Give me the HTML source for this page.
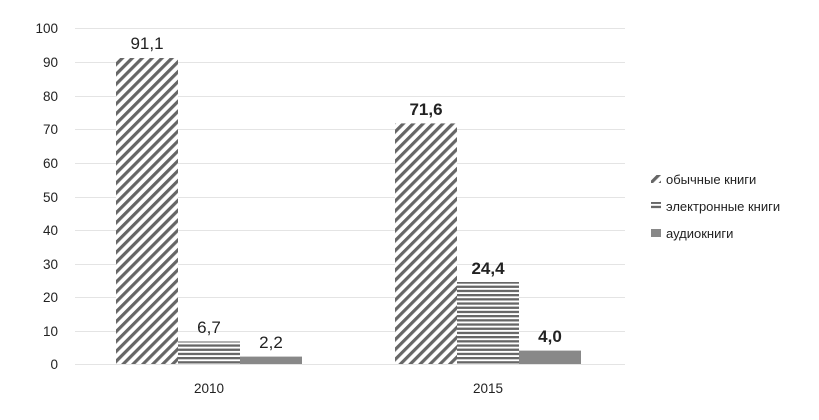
<!DOCTYPE html>
<html><head><meta charset="utf-8"><style>body{margin:0;background:#fff}svg{display:block}text{font-family:"Liberation Sans",sans-serif;fill:#222}</style></head><body>
<svg width="819" height="420" viewBox="0 0 819 420">
<defs>
<pattern id="d" patternUnits="userSpaceOnUse" width="7" height="7" patternTransform="rotate(45)"><rect width="7" height="7" fill="#fff"/><rect width="3.2" height="7" fill="#666"/></pattern>
<pattern id="h" patternUnits="userSpaceOnUse" width="4" height="4.2"><rect width="4" height="4.2" fill="#fff"/><rect width="4" height="2.3" fill="#666"/></pattern>
</defs>
<g stroke="#e4e4e4" stroke-width="1">
<line x1="75" x2="625" y1="28.5" y2="28.5"/><line x1="75" x2="625" y1="62.5" y2="62.5"/><line x1="75" x2="625" y1="96.5" y2="96.5"/><line x1="75" x2="625" y1="129.5" y2="129.5"/><line x1="75" x2="625" y1="163.5" y2="163.5"/><line x1="75" x2="625" y1="197.5" y2="197.5"/><line x1="75" x2="625" y1="230.5" y2="230.5"/><line x1="75" x2="625" y1="264.5" y2="264.5"/><line x1="75" x2="625" y1="297.5" y2="297.5"/><line x1="75" x2="625" y1="331.5" y2="331.5"/><line x1="75" x2="625" y1="364.5" y2="364.5"/>
</g>
<g font-size="13.5" text-anchor="end">
<text x="58" y="33">100</text><text x="58" y="67">90</text><text x="58" y="101">80</text><text x="58" y="134">70</text><text x="58" y="168">60</text><text x="58" y="202">50</text><text x="58" y="235">40</text><text x="58" y="269">30</text><text x="58" y="302">20</text><text x="58" y="336">10</text><text x="58" y="369">0</text>
</g>
<rect x="116" y="58" width="62" height="306" fill="url(#d)"/>
<rect x="178" y="341.5" width="62" height="22.5" fill="url(#h)"/>
<rect x="240" y="356.6" width="62" height="7.4" fill="#888"/>
<rect x="395" y="123.4" width="62" height="240.6" fill="url(#d)"/>
<rect x="457" y="282" width="62" height="82" fill="url(#h)"/>
<rect x="519" y="350.6" width="62" height="13.4" fill="#888"/>
<g font-size="17" text-anchor="middle">
<text x="147" y="49">91,1</text><text x="209" y="333">6,7</text><text x="271" y="348">2,2</text>
<text x="426" y="115" font-weight="bold">71,6</text><text x="488" y="274" font-weight="bold">24,4</text><text x="550" y="342" font-weight="bold">4,0</text>
</g>
<g font-size="13.5" text-anchor="middle"><text x="209" y="393">2010</text><text x="488" y="393">2015</text></g>
<rect x="651" y="175" width="10" height="8" fill="url(#d)"/>
<rect x="651" y="202" width="10" height="8" fill="url(#h)"/>
<rect x="651" y="229" width="10" height="8" fill="#888"/>
<g font-size="13"><text x="666" y="184">обычные книги</text><text x="666" y="211">электронные книги</text><text x="666" y="238">аудиокниги</text></g>
</svg>
</body></html>
